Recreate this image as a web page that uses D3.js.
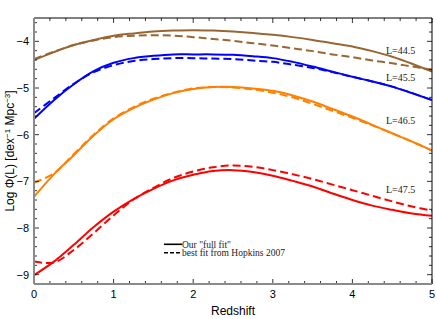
<!DOCTYPE html>
<html><head><meta charset="utf-8">
<script src="https://cdn.jsdelivr.net/npm/d3@7"></script>
<style>body{margin:0;background:#fff}</style>
</head><body>
<svg id="c" width="436" height="319"></svg>
<script>
const redshift = [0,0.25,0.5,0.75,1,1.25,1.5,1.75,2,2.25,2.5,2.75,3,3.25,3.5,3.75,4,4.25,4.5,4.75,5];
const fit445 = [-4.40,-4.23,-4.08,-3.97,-3.88,-3.83,-3.79,-3.77,-3.76,-3.77,-3.79,-3.82,-3.86,-3.91,-3.97,-4.04,-4.11,-4.21,-4.33,-4.48,-4.65];
const hop445 = [-4.38,-4.22,-4.08,-3.98,-3.91,-3.88,-3.87,-3.88,-3.91,-3.95,-3.99,-4.04,-4.09,-4.15,-4.21,-4.28,-4.34,-4.41,-4.47,-4.54,-4.61];
const fit455 = [-5.66,-5.26,-4.92,-4.64,-4.46,-4.36,-4.31,-4.28,-4.28,-4.28,-4.29,-4.32,-4.36,-4.44,-4.54,-4.65,-4.76,-4.86,-4.97,-5.11,-5.26];
const hop455 = [-5.54,-5.22,-4.91,-4.66,-4.51,-4.42,-4.38,-4.36,-4.36,-4.37,-4.38,-4.41,-4.44,-4.50,-4.57,-4.66,-4.76,-4.86,-4.97,-5.11,-5.26];
const fit465 = [-7.33,-6.85,-6.44,-6.02,-5.67,-5.43,-5.25,-5.11,-5.02,-4.98,-4.98,-5.01,-5.06,-5.16,-5.29,-5.45,-5.61,-5.79,-5.97,-6.15,-6.34];
const hop465 = [-7.03,-6.83,-6.42,-6.00,-5.65,-5.41,-5.23,-5.10,-5.01,-4.98,-4.99,-5.03,-5.10,-5.20,-5.34,-5.49,-5.64,-5.80,-5.97,-6.15,-6.34];
const fit475 = [-9.01,-8.72,-8.36,-7.98,-7.65,-7.38,-7.16,-6.98,-6.86,-6.78,-6.76,-6.80,-6.88,-6.99,-7.11,-7.26,-7.40,-7.52,-7.61,-7.69,-7.74];
const hop475 = [-8.72,-8.74,-8.47,-8.11,-7.73,-7.39,-7.14,-6.93,-6.79,-6.70,-6.66,-6.69,-6.76,-6.85,-6.95,-7.07,-7.19,-7.31,-7.43,-7.54,-7.63];
const curveLabels = ["L=44.5","L=45.5","L=46.5","L=47.5"];
const xTicks = [0,1,2,3,4,5];
const yTicks = [-4,-5,-6,-7,-8,-9];
const legendLabels = ['Our "full fit"', 'best fit from Hopkins 2007'];

const series = [
  {fit: fit445, hop: hop445, color: "#996633", label: curveLabels[0], ly: 53.5},
  {fit: fit455, hop: hop455, color: "#0000ff", label: curveLabels[1], ly: 81},
  {fit: fit465, hop: hop465, color: "#ff8000", label: curveLabels[2], ly: 124},
  {fit: fit475, hop: hop475, color: "#ff0000", label: curveLabels[3], ly: 192.5}
];

const svg = d3.select("#c");
const L = 34, R = 432, T = 18, B = 284;
const x = d3.scaleLinear().domain([0,5]).range([L,R]);
const y = d3.scaleLinear().domain([-9.2,-3.5]).range([B,T]);

svg.append("defs").append("clipPath").attr("id","clip")
  .append("rect").attr("x",L).attr("y",T).attr("width",R-L).attr("height",B-T);

const line = d3.line().x((d,i)=>x(redshift[i])).y(d=>y(d)).curve(d3.curveCatmullRom.alpha(0.5));
const g = svg.append("g").attr("clip-path","url(#clip)");
series.forEach(s=>{
  g.append("path").attr("d", line(s.hop)).attr("fill","none").attr("stroke",s.color)
    .attr("stroke-width",2).attr("stroke-dasharray","8,4");
  g.append("path").attr("d", line(s.fit)).attr("fill","none").attr("stroke",s.color)
    .attr("stroke-width",2);
  svg.append("text").attr("x",386).attr("y",s.ly).text(s.label)
    .attr("font-family","Liberation Serif, serif").attr("font-size",10).attr("fill","#222");
});

// frame
svg.append("line").attr("x1",L).attr("x2",R).attr("y1",T).attr("y2",T).attr("stroke","#000").attr("stroke-width",1);
svg.append("line").attr("x1",R).attr("x2",R).attr("y1",T).attr("y2",B).attr("stroke","#000").attr("stroke-width",1);

// ticks
const minorX = d3.range(0,5.001,0.2);
const minorY = d3.range(-9.2,-3.499,0.2);
const tg = svg.append("g").attr("stroke","#000").attr("stroke-width",0.8);
minorX.forEach(v=>{
  const major = Math.abs(v-Math.round(v))<1e-6;
  const len = major?5:3;
  tg.append("line").attr("x1",x(v)).attr("x2",x(v)).attr("y1",B).attr("y2",B-len);
  tg.append("line").attr("x1",x(v)).attr("x2",x(v)).attr("y1",T).attr("y2",T+len);
});
minorY.forEach(v=>{
  const major = Math.abs(v-Math.round(v))<1e-6;
  const len = major?5:3;
  tg.append("line").attr("x1",L).attr("x2",L+len).attr("y1",y(v)).attr("y2",y(v));
  tg.append("line").attr("x1",R).attr("x2",R-len).attr("y1",y(v)).attr("y2",y(v));
});

svg.append("line").attr("x1",L).attr("x2",R).attr("y1",B).attr("y2",B).attr("stroke","#8a8a8a").attr("stroke-width",2);
svg.append("line").attr("x1",L).attr("x2",L).attr("y1",T).attr("y2",B).attr("stroke","#8a8a8a").attr("stroke-width",2);

const font = "Liberation Sans, Arial, sans-serif";
xTicks.forEach(v=>{
  svg.append("text").attr("x",x(v)).attr("y",297.5).attr("text-anchor","middle")
    .attr("font-family",font).attr("font-size",11).text(v);
});
yTicks.forEach(v=>{
  svg.append("text").attr("x",29).attr("y",y(v)+4).attr("text-anchor","end")
    .attr("font-family",font).attr("font-size",11).text("\u2212"+Math.abs(v));
});

svg.append("text").attr("x",(L+R)/2).attr("y",314.5).attr("text-anchor","middle")
  .attr("font-family",font).attr("font-size",12).text("Redshift");

const yl = svg.append("text").attr("transform",`translate(14,${(T+B)/2}) rotate(-90)`)
  .attr("text-anchor","middle").attr("font-family",font).attr("font-size",12);
yl.append("tspan").text("Log \u03A6(L) [dex");
yl.append("tspan").attr("dy",-4).attr("font-size",8).text("\u22121");
yl.append("tspan").attr("dy",4).text(" Mpc");
yl.append("tspan").attr("dy",-4).attr("font-size",8).text("\u22123");
yl.append("tspan").attr("dy",4).text("]");

// legend
const lg = svg.append("g");
[0,1].forEach(i=>{
  const ly = 244.3 + i*8.5;
  lg.append("line").attr("x1",164).attr("x2",182).attr("y1",ly).attr("y2",ly)
    .attr("stroke","#000").attr("stroke-width",1.6).attr("stroke-dasharray", i? "4,2":null);
  lg.append("text").attr("x",182).attr("y",ly+3.3).text(legendLabels[i])
    .attr("font-family","Liberation Serif, serif").attr("font-size",9.5).attr("fill","#222");
});
</script>
</body></html>
